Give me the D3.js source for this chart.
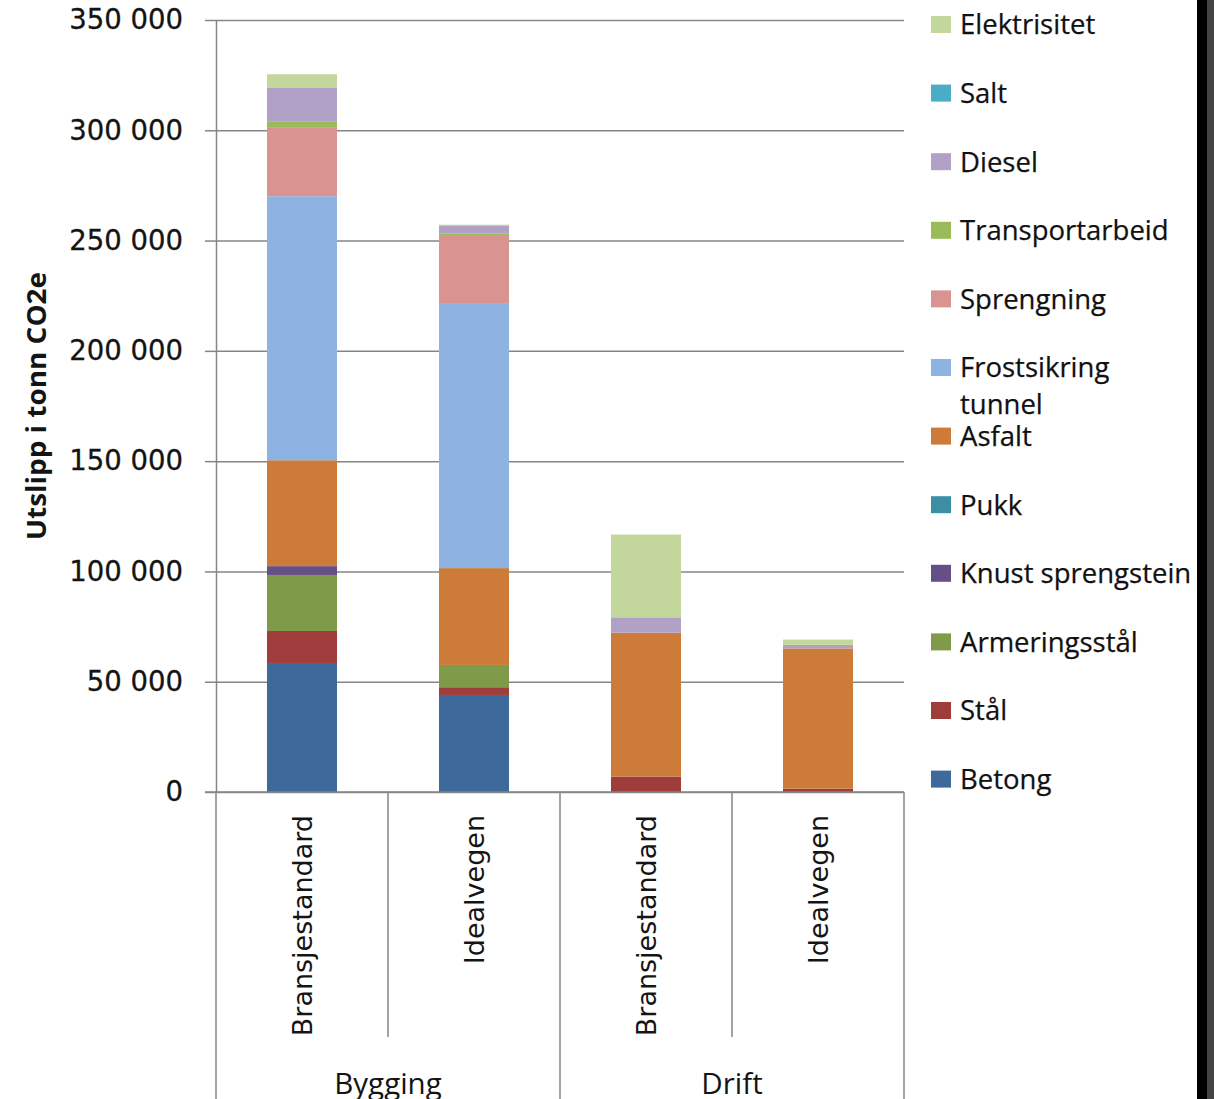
<!DOCTYPE html>
<html>
<head>
<meta charset="utf-8">
<script src="https://cdn.jsdelivr.net/npm/d3@7"></script>
<style>
  html, body { margin: 0; padding: 0; background: #fff; }
  svg { display: block; }
</style>
</head>
<body>
<div id="chart"></div>
<script>
// categories: [group, scenario]
const groups = ["Bygging", "Drift"];
const scenarios = ["Bransjestandard", "Idealvegen"];
const categories = ["Bygging|Bransjestandard", "Bygging|Idealvegen", "Drift|Bransjestandard", "Drift|Idealvegen"];

// stack order bottom -> top
const series = ["Betong", "Stål", "Armeringsstål", "Knust sprengstein", "Pukk", "Asfalt",
  "Frostsikring tunnel", "Sprengning", "Transportarbeid", "Diesel", "Salt", "Elektrisitet"];

const betong = [58500, 44000, 0, 0];
const staal = [14500, 3500, 7000, 1500];
const armering = [25400, 10100, 0, 0];
const knust = [4000, 0, 0, 0];
const pukk = [0, 0, 0, 0];
const asfalt = [48000, 43900, 65200, 63600];
const frost = [119700, 119800, 0, 0];
const sprengning = [31000, 30800, 0, 0];
const transport = [3000, 1000, 0, 0];
const diesel = [15100, 3500, 7000, 1600];
const salt = [0, 0, 0, 0];
const elektrisitet = [6200, 600, 37500, 2400];

const seriesValues = [betong, staal, armering, knust, pukk, asfalt, frost, sprengning, transport, diesel, salt, elektrisitet];

const colors = ["#3e6a9b", "#9e3d3c", "#7f9a48", "#664f87", "#3a8fa3", "#cc7b38",
  "#8eb3e2", "#d99391", "#9bbb59", "#b2a1c7", "#4bacc6", "#c3d69b"];

const yTicks = [0, 50000, 100000, 150000, 200000, 250000, 300000, 350000];

const W = 1214, H = 1099;
const plotLeft = 216, plotRight = 904, plotTop = 20, plotBase = 792;

const svg = d3.select("#chart").append("svg")
  .attr("width", W)
  .attr("height", H);

const x = d3.scaleBand()
  .domain(categories)
  .range([plotLeft, plotRight])
  .paddingInner(0.593)
  .paddingOuter(0.593 / 2);

const y = d3.scaleLinear()
  .domain([0, 350000])
  .range([plotBase, plotTop]);

// table for stacking
const table = categories.map((c, i) => {
  const row = { cat: c };
  series.forEach((s, j) => { row[s] = seriesValues[j][i]; });
  return row;
});
const stacked = d3.stack().keys(series)(table);

const grid = "#868686";

// gridlines
svg.append("g")
  .attr("transform", `translate(${plotLeft},0)`)
  .call(d3.axisLeft(y).tickValues(yTicks).tickSize(-(plotRight - plotLeft)).tickFormat(""))
  .call(g => g.select(".domain").remove())
  .call(g => g.selectAll(".tick line").attr("stroke", grid).attr("stroke-width", 1.5));

// y axis with outer ticks
svg.append("g")
  .attr("transform", `translate(${plotLeft},0)`)
  .call(d3.axisLeft(y).tickValues(yTicks).tickSize(11).tickSizeOuter(0).tickPadding(22)
    .tickFormat(d => d3.format(",")(d).replace(/,/g, " ")))
  .call(g => g.select(".domain").attr("stroke", grid).attr("stroke-width", 1.5))
  .call(g => g.selectAll(".tick line").attr("stroke", grid).attr("stroke-width", 1.5))
  .call(g => g.selectAll(".tick text")
    .attr("font-family", "DejaVu Sans")
    .attr("font-size", 27.5)
    .attr("fill", "#141414")
    .attr("stroke", "#141414")
    .attr("stroke-width", 0.3));

// bars
svg.append("g").selectAll("g")
  .data(stacked)
  .join("g")
  .attr("fill", (d, i) => colors[i])
  .selectAll("rect")
  .data(d => d)
  .join("rect")
  .attr("x", d => x(d.data.cat))
  .attr("width", x.bandwidth())
  .attr("y", d => y(d[1]))
  .attr("height", d => y(d[0]) - y(d[1]));

// category axis
svg.append("line")
  .attr("x1", plotLeft - 11).attr("x2", plotRight)
  .attr("y1", plotBase).attr("y2", plotBase)
  .attr("stroke", grid).attr("stroke-width", 1.5);

const step = x.step();
const boundaries = d3.range(categories.length + 1).map(i => plotLeft + i * step);
svg.append("g").selectAll("line")
  .data(boundaries)
  .join("line")
  .attr("x1", d => d).attr("x2", d => d)
  .attr("y1", plotBase)
  .attr("y2", (d, i) => i % 2 === 0 ? H : 1037)
  .attr("stroke", grid).attr("stroke-width", 1.5);

// scenario labels (rotated)
svg.append("g").selectAll("text")
  .data(categories)
  .join("text")
  .attr("transform", d => `translate(${x(d) + x.bandwidth() / 2 + 10},815) rotate(-90)`)
  .attr("text-anchor", "end")
  .attr("font-family", "DejaVu Sans")
  .attr("font-size", 27)
  .attr("fill", "#141414")
  .text(d => d.split("|")[1]);

// group labels
svg.append("g").selectAll("text")
  .data(groups)
  .join("text")
  .attr("x", (d, i) => plotLeft + step * (2 * i + 1))
  .attr("y", 1094)
  .attr("text-anchor", "middle")
  .attr("font-family", "Open Sans")
  .attr("font-size", 29.5)
  .attr("fill", "#141414")
  .text(d => d);

// y title
svg.append("text")
  .attr("transform", "translate(46,406) rotate(-90)")
  .attr("text-anchor", "middle")
  .attr("font-family", "Open Sans")
  .attr("font-weight", "bold")
  .attr("font-size", 26)
  .attr("textLength", 268)
  .attr("lengthAdjust", "spacingAndGlyphs")
  .attr("fill", "#141414")
  .text("Utslipp i tonn CO2e");

// legend (reverse order)
const legendItems = series.map((s, i) => ({ name: s, color: colors[i] })).reverse();
const lg = svg.append("g").selectAll("g")
  .data(legendItems)
  .join("g")
  .attr("transform", (d, i) => `translate(931,${24.5 + i * 68.6})`);

lg.append("rect")
  .attr("x", 0).attr("y", -8.5)
  .attr("width", 20).attr("height", 17)
  .attr("fill", d => d.color);

lg.append("text")
  .attr("font-family", "Open Sans")
  .attr("font-size", 27.5)
  .attr("fill", "#111")
  .attr("stroke", "#111")
  .attr("stroke-width", 0.25)
  .each(function(d) {
    const t = d3.select(this);
    const words = d.name === "Frostsikring tunnel" ? ["Frostsikring", "tunnel"] : [d.name];
    words.forEach((w, k) => {
      t.append("tspan").attr("x", 29).attr("y", k * 37).attr("dy", "0.36em").text(w);
    });
  });

// right frame edge
svg.append("rect").attr("x", 1197).attr("y", 0).attr("width", 10).attr("height", H).attr("fill", "#000");
svg.append("rect").attr("x", 1207).attr("y", 0).attr("width", 7).attr("height", H).attr("fill", "#444");
</script>
</body>
</html>
